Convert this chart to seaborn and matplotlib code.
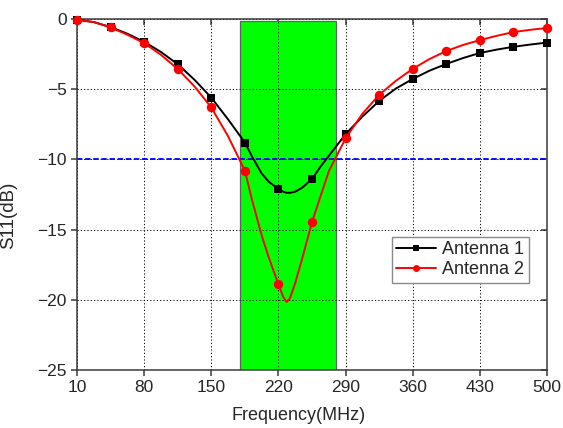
import numpy as np
import pandas as pd
import matplotlib
matplotlib.use("Agg")
import matplotlib.pyplot as plt
import seaborn as sns

# Frequency grid of the traces (MHz)
freq = [10, 27.5, 45, 62.5, 80, 97.5, 115, 132.5, 150, 167.5, 185, 192.5,
        202.5, 210, 220, 225, 228.5, 232, 237.5, 245, 255, 264, 272.5, 290,
        307.5, 325, 342.5, 360, 377.5, 395, 412.5, 430, 447.5, 465, 482.5, 500]

# Return loss S11 (dB)
s11_ant1 = [-0.05, -0.22, -0.57, -1.05, -1.62, -2.35, -3.22, -4.33, -5.6,
            -7.15, -8.8, -9.8, -11.0, -11.6, -12.1, -12.3, -12.38, -12.38,
            -12.3, -12.0, -11.4, -10.5, -9.75, -8.2, -6.95, -5.84, -4.95,
            -4.27, -3.68, -3.2, -2.78, -2.42, -2.18, -1.98, -1.82, -1.68]
s11_ant2 = [-0.05, -0.22, -0.6, -1.12, -1.72, -2.55, -3.56, -4.8, -6.3,
            -8.35, -10.8, -12.9, -15.4, -17.0, -18.9, -19.8, -20.15, -19.9,
            -18.8, -17.0, -14.46, -12.6, -10.85, -8.5, -6.75, -5.4, -4.4,
            -3.55, -2.85, -2.28, -1.85, -1.5, -1.2, -0.93, -0.77, -0.64]

# Frequencies that carry a symbol
marker_freq = [10, 45, 80, 115, 150, 185, 220, 255, 290, 325, 360, 395, 430, 465, 500]

series_names = ["Antenna 1", "Antenna 2"]
x_ticks = [10, 80, 150, 220, 290, 360, 430, 500]
y_ticks = [0, -5, -10, -15, -20, -25]

band_start, band_end = 180, 280
threshold_db = -10

sns.set_style("ticks")
plt.rcParams["font.family"] = ["Liberation Sans", "DejaVu Sans"]

df = pd.concat([
    pd.DataFrame({"Frequency": freq, "S11": s11_ant1, "Antenna": series_names[0]}),
    pd.DataFrame({"Frequency": freq, "S11": s11_ant2, "Antenna": series_names[1]}),
], ignore_index=True)

fig = plt.figure(figsize=(5.63, 4.28), dpi=100)
ax = fig.add_axes([0.1368, 0.1355, 0.8348, 0.8201])

mark_idx = [i for i, f in enumerate(freq) if f in marker_freq]

styles = {series_names[0]: dict(color="black", marker="s", markersize=5.8),
          series_names[1]: dict(color="red", marker="o", markersize=6.8)}
for name in series_names:
    sub = df[df["Antenna"] == name]
    sns.lineplot(data=sub, x="Frequency", y="S11", ax=ax, label=name,
                 sort=False, estimator=None, lw=1.4, markevery=mark_idx,
                 markeredgewidth=0, zorder=4, clip_on=False,
                 solid_joinstyle="round", **styles[name])

# Operating band and -10 dB reference
ax.axvspan(band_start, band_end, ymin=0, ymax=0.994, facecolor="#00ff00",
           edgecolor="#606060", lw=0.9, zorder=0.2)
ax.axhline(threshold_db, color="blue", ls=(0, (3, 1.5)), lw=1.3, zorder=2)

ax.set_xlim(10, 500)
ax.set_ylim(-25, 0)
ax.set_xticks(x_ticks)
ax.set_yticks(y_ticks)

ax.set_axisbelow("line")
ax.grid(True, color="black", ls=(0, (1.2, 2.2)), lw=0.7)

for sp in ax.spines.values():
    sp.set_color("#3a3a3a")
    sp.set_linewidth(1.1)
    sp.set_visible(True)

ax.tick_params(axis="both", direction="out", length=4.5, width=1.1,
               color="#3a3a3a", labelsize=12.5, pad=3)

# Inward ticks on the top and right edges
top = ax.secondary_xaxis("top")
top.set_xticks(x_ticks)
top.tick_params(direction="in", length=4.5, width=1.1, color="#3a3a3a",
                labeltop=False)
top.spines["top"].set_visible(False)
right = ax.secondary_yaxis("right")
right.set_yticks(y_ticks)
right.tick_params(direction="in", length=4.5, width=1.1, color="#3a3a3a",
                  labelright=False)
right.spines["right"].set_visible(False)

ax.set_xlabel("Frequency(MHz)", fontsize=13)
ax.set_ylabel("S11(dB)", fontsize=13.5)
ax.xaxis.set_label_coords(0.472, -0.105)
ax.yaxis.set_label_coords(-0.128, 0.44)

leg = ax.legend(loc="upper left", bbox_to_anchor=(0.670, 0.379),
                borderaxespad=0, fontsize=13, frameon=True, fancybox=False,
                framealpha=1, edgecolor="#8a8a8a", handlelength=2.2,
                handletextpad=0.35, labelspacing=0.15, borderpad=0.25)
leg.get_frame().set_linewidth(1.0)
for h in leg.legend_handles:
    h.set_markersize(5)

fig.savefig("out.png", dpi=100)
